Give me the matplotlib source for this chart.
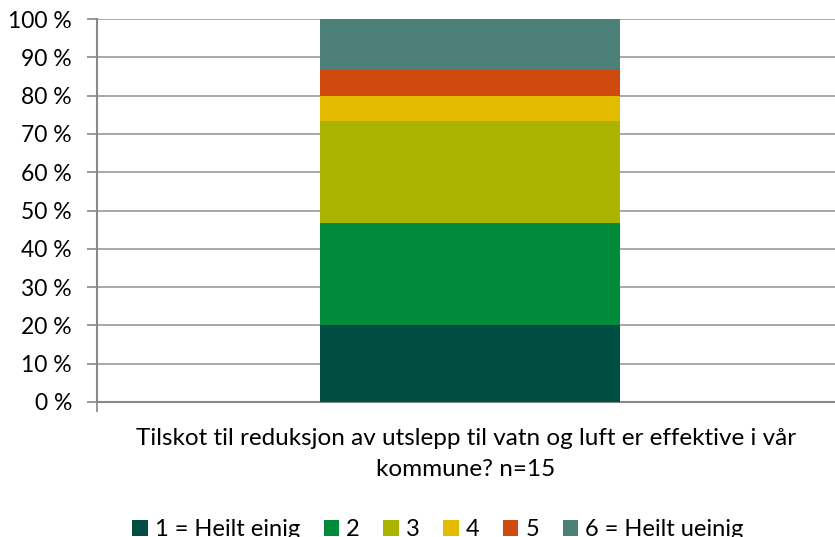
import matplotlib.pyplot as plt
import numpy as np

# answers per category (n=15), shown as share of total
categories = ["1 = Heilt einig", "2", "3", "4", "5", "6 = Heilt ueinig"]
counts = [3, 4, 4, 1, 1, 2]
colors = ["#004D42", "#008A3A", "#AAB300", "#E3BC00", "#D0490F", "#4B7F78"]
yticks = [0, 10, 20, 30, 40, 50, 60, 70, 80, 90, 100]
question = "Tilskot til reduksjon av utslepp til vatn og luft er effektive i vår\nkommune? n=15"

plt.rcParams['font.family'] = ['Lato', 'DejaVu Sans']

shares = np.array(counts) / sum(counts) * 100

fig = plt.figure(figsize=(8.35, 5.37), dpi=100)
ax = fig.add_axes([97 / 835, 1 - 402 / 537, 738 / 835, 383 / 537])

bottom = 0
for lab, val, col in zip(categories, shares, colors):
    ax.bar(0.005, val, width=0.407, bottom=bottom, color=col, label=lab, zorder=3)
    bottom += val

ax.set_xlim(-0.5, 0.5)
ax.set_ylim(0, 100)
ax.set_yticks(yticks)
ax.set_yticklabels([f"{t} %" for t in yticks], fontsize=16.5)
ax.set_xticks([-0.5])
ax.set_xticklabels([""])
ax.tick_params(axis='x', length=7, color='#888888', width=1.2)
ax.tick_params(axis='y', length=7, color='#888888', width=1.2, pad=11)
ax.grid(axis='y', color='#999999', linewidth=1.2, zorder=0)

for s in ['top', 'right']:
    ax.spines[s].set_visible(False)
for s in ['left', 'bottom']:
    ax.spines[s].set_color('#888888')
    ax.spines[s].set_linewidth(1.5)

ax.set_xlabel(question, fontsize=17.5, labelpad=8, linespacing=1.6)

ax.legend(loc='upper center', bbox_to_anchor=(0.462, -0.25), ncol=6, frameon=False,
          fontsize=17, handlelength=0.65, handleheight=0.65, handletextpad=0.3,
          columnspacing=1.0)

fig.savefig("out.png", dpi=100)
